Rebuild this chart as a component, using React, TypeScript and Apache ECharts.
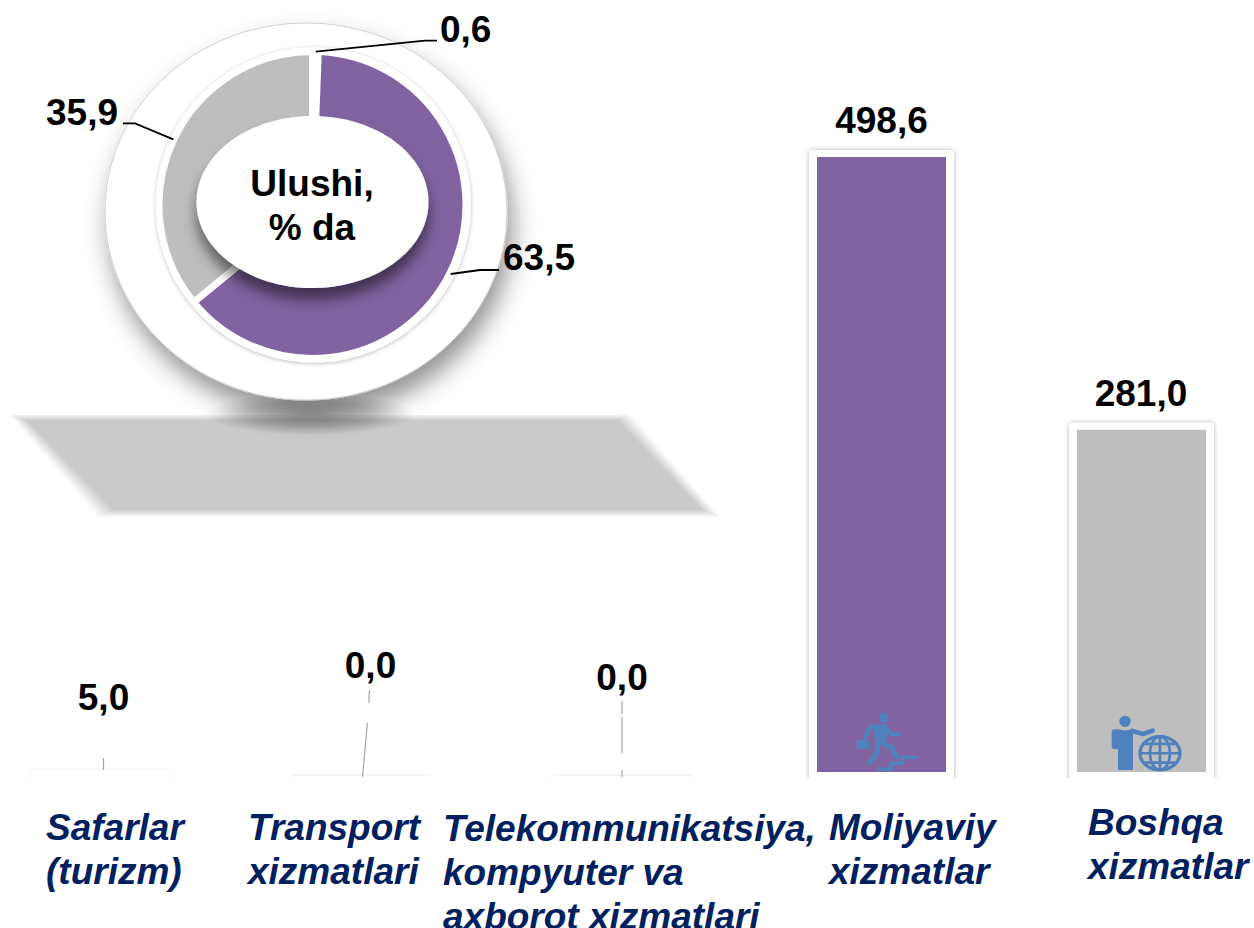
import React, { useEffect, useRef } from "react";
import * as echarts from "echarts";

// ---- data ----
const categories = [
  "Safarlar\n(turizm)",
  "Transport\nxizmatlari",
  "Telekommunikatsiya,\nkompyuter va\naxborot xizmatlari",
  "Moliyaviy\nxizmatlar",
  "Boshqa\nxizmatlar",
];
const barValues = [5.0, 0.0, 0.0, 498.6, 281.0];
const shareNames = ["Boshqa (kichik ulush)", "Moliyaviy xizmatlar", "Boshqa xizmatlar"];
const shareValues = [0.6, 63.5, 35.9];
const centerTitle = ["Ulushi,", "% da"];

// ---- styling / layout ----
const PURPLE = "#8063A0";
const GREY = "#BEBEBE";
const BLUE = "#4F81BD";
const NAVY = "#002060";
const FONT = '"Liberation Sans", Arial, sans-serif';
const DESCENT = 8; // bottom-aligned text: distance from baseline to box bottom at 37px
const AXIS_MIN = 8;
const barColors = [GREY, GREY, GREY, PURPLE, GREY];

const valueLabelBaseline: (number | null)[] = [708, 676, 688, null, null];
const valueLabelX = [103.5, 370.5, 622, 881.5, 1141];
const catLabelX = [46, 248, 443, 829, 1088];
const catLabelBaseline = [838, 838, 839, 838, 833];

const comma = (v: number) => v.toFixed(1).replace(".", ",");
const leaders: number[][] = [
  [103.5, 758, 103.5, 770],
  [369.6, 690, 368.8, 703],
  [367.4, 723, 362.5, 777],
  [622, 701, 622, 714],
  [622, 717, 622, 753],
  [622, 770, 622, 777],
];
const donutLabelPos = [
  { x: 440, y: 29.5 },
  { x: 503, y: 257 },
  { x: 46, y: 112.5 },
];
const donutLeaders = [
  [[315.7, 51.7], [425, 40.7], [437, 40.7]],
  [[450.7, 274], [480, 270], [499, 270]],
  [[173.3, 139.3], [135, 123.3], [123, 123.3]],
];

function iconElements() {
  const z = 6;
  const fill = { fill: BLUE };
  const stroke = (w: number) => ({ fill: "none", stroke: BLUE, lineWidth: w, lineCap: "round", lineJoin: "round" });
  const poly = (pts: number[][], w: number) => ({ type: "polyline", z, shape: { points: pts }, style: stroke(w) });
  const runner = [
    { type: "circle", z, shape: { cx: 281, cy: 113, r: 15 }, style: fill },
    { type: "polygon", z, shape: { points: [[245, 133], [285, 133], [298, 150], [285, 190], [258, 195]] }, style: fill },
    poly([[258, 140], [236, 146], [226, 172]], 13),
    { type: "rect", z, shape: { x: 200, y: 180, width: 38, height: 27, r: 4 }, style: fill },
    poly([[285, 140], [305, 163], [328, 163]], 12),
    poly([[275, 188], [305, 203], [320, 230]], 16),
    poly([[262, 195], [262, 218], [240, 248]], 16),
    poly([[266, 268], [305, 268], [305, 250], [338, 250], [338, 232], [377, 232]], 10),
  ];
  const man = [
    { type: "circle", z, shape: { cx: 1006, cy: 124, r: 17 }, style: fill },
    { type: "rect", z, shape: { x: 966, y: 148, width: 24, height: 60, r: 10 }, style: fill },
    { type: "polygon", z, shape: { points: [[985, 148], [1005, 152], [1030, 148], [1030, 270], [985, 270]] }, style: fill },
    poly([[1028, 153], [1060, 162], [1089, 152]], 14),
    { type: "ellipse", z, shape: { cx: 1111, cy: 220, rx: 60, ry: 50 }, style: stroke(10) },
    { type: "ellipse", z, shape: { cx: 1111, cy: 220, rx: 30, ry: 50 }, style: stroke(8) },
    poly([[1111, 172], [1111, 268]], 8),
    poly([[1052, 220], [1170, 220]], 8),
    poly([[1065, 192], [1157, 192]], 8),
    poly([[1065, 248], [1157, 248]], 8),
  ];
  return { type: "group", x: 790, y: 680, scaleX: 1 / 3, scaleY: 1 / 3, children: [...runner, ...man] };
}

// soft-edged floor shadow: stacked polygons from the faint outer edge to the solid core
function floorLayers() {
  const outer = [[6, 413], [632, 413], [722, 518], [97, 518]];
  const inner = [[26, 420], [618, 420], [703, 510], [113, 510]];
  const steps = 8;
  const out: any[] = [];
  for (let k = 0; k < steps; k++) {
    const t = (k + 1) / steps;
    const pts = outer.map((p, i) => [p[0] + (inner[i][0] - p[0]) * t, p[1] + (inner[i][1] - p[1]) * t]);
    const c = Math.round(255 + (203 - 255) * t);
    out.push({ type: "polygon", z: 0, shape: { points: pts }, style: { fill: `rgb(${c},${c},${c})` } });
  }
  return out;
}

function backdrop() {
  return [
    ...floorLayers(),
    { type: "rect", z: 0, shape: { x: 0, y: 370, width: 617, height: 45 }, style: { fill: "#fff" } },
    {
      type: "ellipse", z: 0,
      shape: { cx: 310, cy: 414, rx: 105, ry: 21 },
      style: {
        fill: {
          type: "radial", x: 0.5, y: 0.5, r: 0.5,
          colorStops: [
            { offset: 0, color: "rgba(0,0,0,0.3)" },
            { offset: 0.6, color: "rgba(0,0,0,0.18)" },
            { offset: 1, color: "rgba(0,0,0,0)" },
          ],
        },
      },
    },
    {
      type: "ellipse", z: 0,
      shape: { cx: 306, cy: 211.5, rx: 201, ry: 188.5 },
      style: { fill: "#fff", stroke: "#CFCFCF", lineWidth: 1, shadowBlur: 24, shadowOffsetX: 5, shadowOffsetY: 15, shadowColor: "rgba(0,0,0,0.42)" },
    },
    {
      type: "circle", z: 0,
      shape: { cx: 313.5, cy: 205, r: 157.5 },
      style: { fill: "#fff", shadowBlur: 4, shadowOffsetY: 1, shadowColor: "rgba(0,0,0,0.28)" },
    },
  ];
}

function foreground() {
  const els: any[] = [
    {
      type: "ellipse", z: 5,
      shape: { cx: 312.5, cy: 202, rx: 116, ry: 86 },
      style: { fill: "#fff", shadowBlur: 14, shadowOffsetY: 12, shadowColor: "rgba(0,0,0,0.5)" },
    },
    { type: "rect", z: 4, shape: { x: 0, y: 778, width: 1254, height: 150 }, style: { fill: "#fff" } },
  ];
  centerTitle.forEach((t, i) => {
    els.push({
      type: "text", z: 6, x: 312, y: 194 + DESCENT + i * 44,
      style: { text: t, font: `bold 37px ${FONT}`, fill: "#000", align: "center", verticalAlign: "bottom" },
    });
  });
  categories.forEach((c, i) => {
    c.split("\n").forEach((line, j) => {
      els.push({
        type: "text", z: 6, x: catLabelX[i], y: catLabelBaseline[i] + DESCENT + j * 44,
        style: { text: line, font: `italic bold 37px ${FONT}`, fill: NAVY, align: "left", verticalAlign: "bottom" },
      });
    });
  });
  leaders.forEach((l) => {
    els.push({
      type: "line", z: 6,
      shape: { x1: l[0], y1: l[1], x2: l[2], y2: l[3] },
      style: { stroke: "#A6A6A6", lineWidth: 1.2 },
    });
  });
  donutLeaders.forEach((pts) => {
    els.push({
      type: "polyline", z: 6,
      shape: { points: pts },
      style: { fill: "none", stroke: "#000", lineWidth: 1.8 },
    });
  });
  els.push(iconElements());
  return els;
}

export default function App() {
  const ref = useRef<HTMLDivElement>(null);
  useEffect(() => {
    document.body.style.margin = "0";
    const chart = echarts.init(ref.current!, undefined, { renderer: "svg" });
    chart.setOption({
      animation: false,
      backgroundColor: "#fff",
      grid: { left: -28.5, width: 1300, top: 155.2, height: 616.8, outerBoundsMode: "none" },
      xAxis: { type: "category", data: categories, show: false },
      yAxis: { type: "value", min: AXIS_MIN, max: 500, show: false },
      graphic: { elements: [...backdrop(), ...foreground()] },
      series: [
        {
          type: "custom",
          z: 1,
          silent: true,
          clip: false,
          data: barValues,
          renderItem: (p: any, api: any) => {
            const v = api.value(0);
            const c = api.coord([p.dataIndex, v]);
            const low = v < AXIS_MIN;
            const top = c[1] - 7 + (low ? 1 : 0);
            return {
              type: "rect",
              shape: { x: c[0] - 72.5 + (low ? 1.5 : 0), y: top, width: low ? 142 : 145, height: 790 - top, r: 4 },
              style: { fill: "#fff", shadowBlur: low ? 3 : 5, shadowColor: low ? "rgba(0,0,0,0.14)" : "rgba(0,0,0,0.3)" },
            };
          },
          encode: { y: 0 },
        },
        {
          type: "bar",
          z: 2,
          silent: true,
          barWidth: 129,
          data: barValues.map((v, i) => ({ value: v, itemStyle: { color: barColors[i] } })),
        },
        {
          type: "custom",
          z: 7,
          silent: true,
          clip: false,
          data: barValues,
          renderItem: (p: any, api: any) => {
            const i = p.dataIndex;
            const c = api.coord([i, api.value(0)]);
            const fixed = valueLabelBaseline[i];
            return {
              type: "text",
              x: valueLabelX[i],
              y: (fixed === null ? c[1] - 25.5 : fixed) + DESCENT,
              style: {
                text: comma(barValues[i]),
                font: `bold 37px ${FONT}`,
                fill: "#000",
                align: "center",
                verticalAlign: "bottom",
              },
            };
          },
          encode: { y: 0 },
        },
        {
          type: "pie",
          z: 3,
          silent: true,
          center: [312.5, 205],
          radius: [70, 153.5],
          startAngle: 90,
          clockwise: true,
          avoidLabelOverlap: false,
          itemStyle: { borderColor: "#fff", borderWidth: 7 },
          data: shareValues.map((v, i) => ({
            name: shareNames[i],
            value: v,
            itemStyle: { color: ["#fff", PURPLE, GREY][i] },
          })),
          label: {
            show: true,
            formatter: (p: any) => comma(p.value),
            fontFamily: FONT,
            fontWeight: "bold",
            fontSize: 37,
            color: "#000",
          },
          labelLine: { show: false },
          labelLayout: (p: any) => {
            const d = donutLabelPos[p.dataIndex];
            return { x: d.x, y: d.y, align: "left", verticalAlign: "middle" };
          },
        },
      ],
    });
    return () => chart.dispose();
  }, []);
  return <div ref={ref} style={{ position: "absolute", left: 0, top: 0, width: 1254, height: 928, overflow: "hidden" }} />;
}
